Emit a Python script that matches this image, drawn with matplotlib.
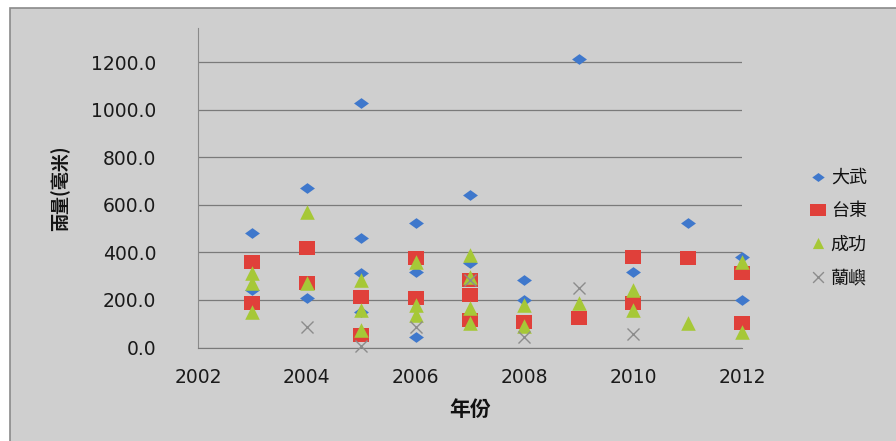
import numpy as np
import matplotlib.pyplot as plt
from matplotlib.patches import Rectangle
from matplotlib.path import Path

plt.rcParams['font.family'] = ['Noto Sans CJK TC', 'DejaVu Sans']

# 各站年雨量 (毫米)
dawu_year = [2003, 2003, 2004, 2004, 2005, 2005, 2005, 2005, 2006, 2006, 2006,
             2007, 2007, 2008, 2008, 2009, 2010, 2011, 2012, 2012]
dawu_rain = [481, 242, 671, 207, 1030, 460, 312, 150, 523, 319, 45,
             642, 357, 284, 200, 1215, 319, 523, 382, 200]

taitung_year = [2003, 2003, 2004, 2004, 2005, 2005, 2006, 2006, 2007, 2007, 2007,
                2008, 2009, 2010, 2010, 2011, 2012, 2012]
taitung_rain = [361, 186, 418, 270, 211, 53, 376, 207, 284, 221, 116,
                109, 123, 382, 186, 376, 312, 102]

chenggong_year = [2003, 2003, 2003, 2004, 2004, 2005, 2005, 2005, 2006, 2006, 2006,
                  2007, 2007, 2007, 2007, 2008, 2008, 2009, 2010, 2010, 2011, 2012, 2012]
chenggong_rain = [312, 271, 151, 570, 270, 284, 158, 74, 361, 179, 137,
                  389, 298, 165, 102, 179, 90, 186, 242, 158, 104, 361, 67]

lanyu_year = [2004, 2005, 2006, 2007, 2008, 2009, 2010]
lanyu_rain = [88, 6, 88, 285, 45, 249, 57]

station_names = ['大武', '台東', '成功', '蘭嶼']
x_ticks = [2002, 2004, 2006, 2008, 2010, 2012]
y_ticks = [0, 200, 400, 600, 800, 1000, 1200]

# 稍扁的菱形與方形標記
diamond = Path([(-1, 0), (0, 0.72), (1, 0), (0, -0.72), (-1, 0)],
               [Path.MOVETO, Path.LINETO, Path.LINETO, Path.LINETO, Path.CLOSEPOLY])
box = Path([(-1, -0.8), (1, -0.8), (1, 0.8), (-1, 0.8), (-1, -0.8)],
           [Path.MOVETO, Path.LINETO, Path.LINETO, Path.LINETO, Path.CLOSEPOLY])

bg = '#cfcfcf'
fig = plt.figure(figsize=(8.96, 4.41), dpi=100)
fig.patch.set_facecolor('white')
fig.patches.append(Rectangle((10 / 896, -0.01), 1.0, 1 - 8 / 441 + 0.01,
                             transform=fig.transFigure, facecolor=bg,
                             edgecolor='#8a8a8a', linewidth=1.2, zorder=-1))

ax = fig.add_axes([198 / 896, 1 - 347.5 / 441, 544 / 896, 319.5 / 441])
ax.set_zorder(1)
ax.set_facecolor(bg)

ax.scatter(dawu_year, dawu_rain, marker=diamond, s=115, color='#3f78cc',
           linewidths=0, label=station_names[0], zorder=3, clip_on=False)
ax.scatter(taitung_year, taitung_rain, marker=box, s=140, color='#e0403a',
           linewidths=0, label=station_names[1], zorder=4, clip_on=False)
ax.scatter(chenggong_year, chenggong_rain, marker='^', s=110, color='#a6c837',
           linewidths=0, label=station_names[2], zorder=5, clip_on=False)
ax.scatter(lanyu_year, lanyu_rain, marker='x', s=75, color='#8c8c8c',
           linewidths=1.0, label=station_names[3], zorder=6, clip_on=False)

ax.set_xlim(2002, 2012)
ax.set_ylim(0, 1345)
ax.set_xticks(x_ticks)
ax.set_yticks(y_ticks)
ax.set_yticklabels([f'{v:.1f}' for v in y_ticks])
ax.tick_params(axis='both', length=0, labelsize=13.5, colors='#1a1a1a')
ax.tick_params(axis='y', pad=30)
ax.tick_params(axis='x', pad=15)
for lbl in ax.get_xticklabels() + ax.get_yticklabels():
    lbl.set_family('DejaVu Sans')
ax.grid(axis='y', color='#7a7a7a', linewidth=0.9)
ax.set_axisbelow(True)
for side in ['top', 'right']:
    ax.spines[side].set_visible(False)
ax.spines['left'].set_color('#8a8a8a')
ax.spines['bottom'].set_color('#7a7a7a')

fig.text(60 / 896, 1 - 188 / 441, '雨量(毫米)', rotation=90, ha='center', va='center',
         fontsize=13, fontweight='bold', color='#111111')
fig.text(470 / 896, 1 - 410 / 441, '年份', ha='center', va='center',
         fontsize=15, fontweight='bold', color='#111111')

leg = fig.legend(loc='center left', bbox_to_anchor=(791 / 896, 1 - 228 / 441),
                 frameon=False, fontsize=13, handletextpad=0.1, labelspacing=0.85,
                 handlelength=1.2, scatteryoffsets=[0.5])
for h, size in zip(leg.legend_handles, [80, 120, 65, 60]):
    h.set_sizes([size])
for t in leg.get_texts():
    t.set_color('#111111')

fig.savefig('out.png', dpi=100, facecolor=fig.get_facecolor())
